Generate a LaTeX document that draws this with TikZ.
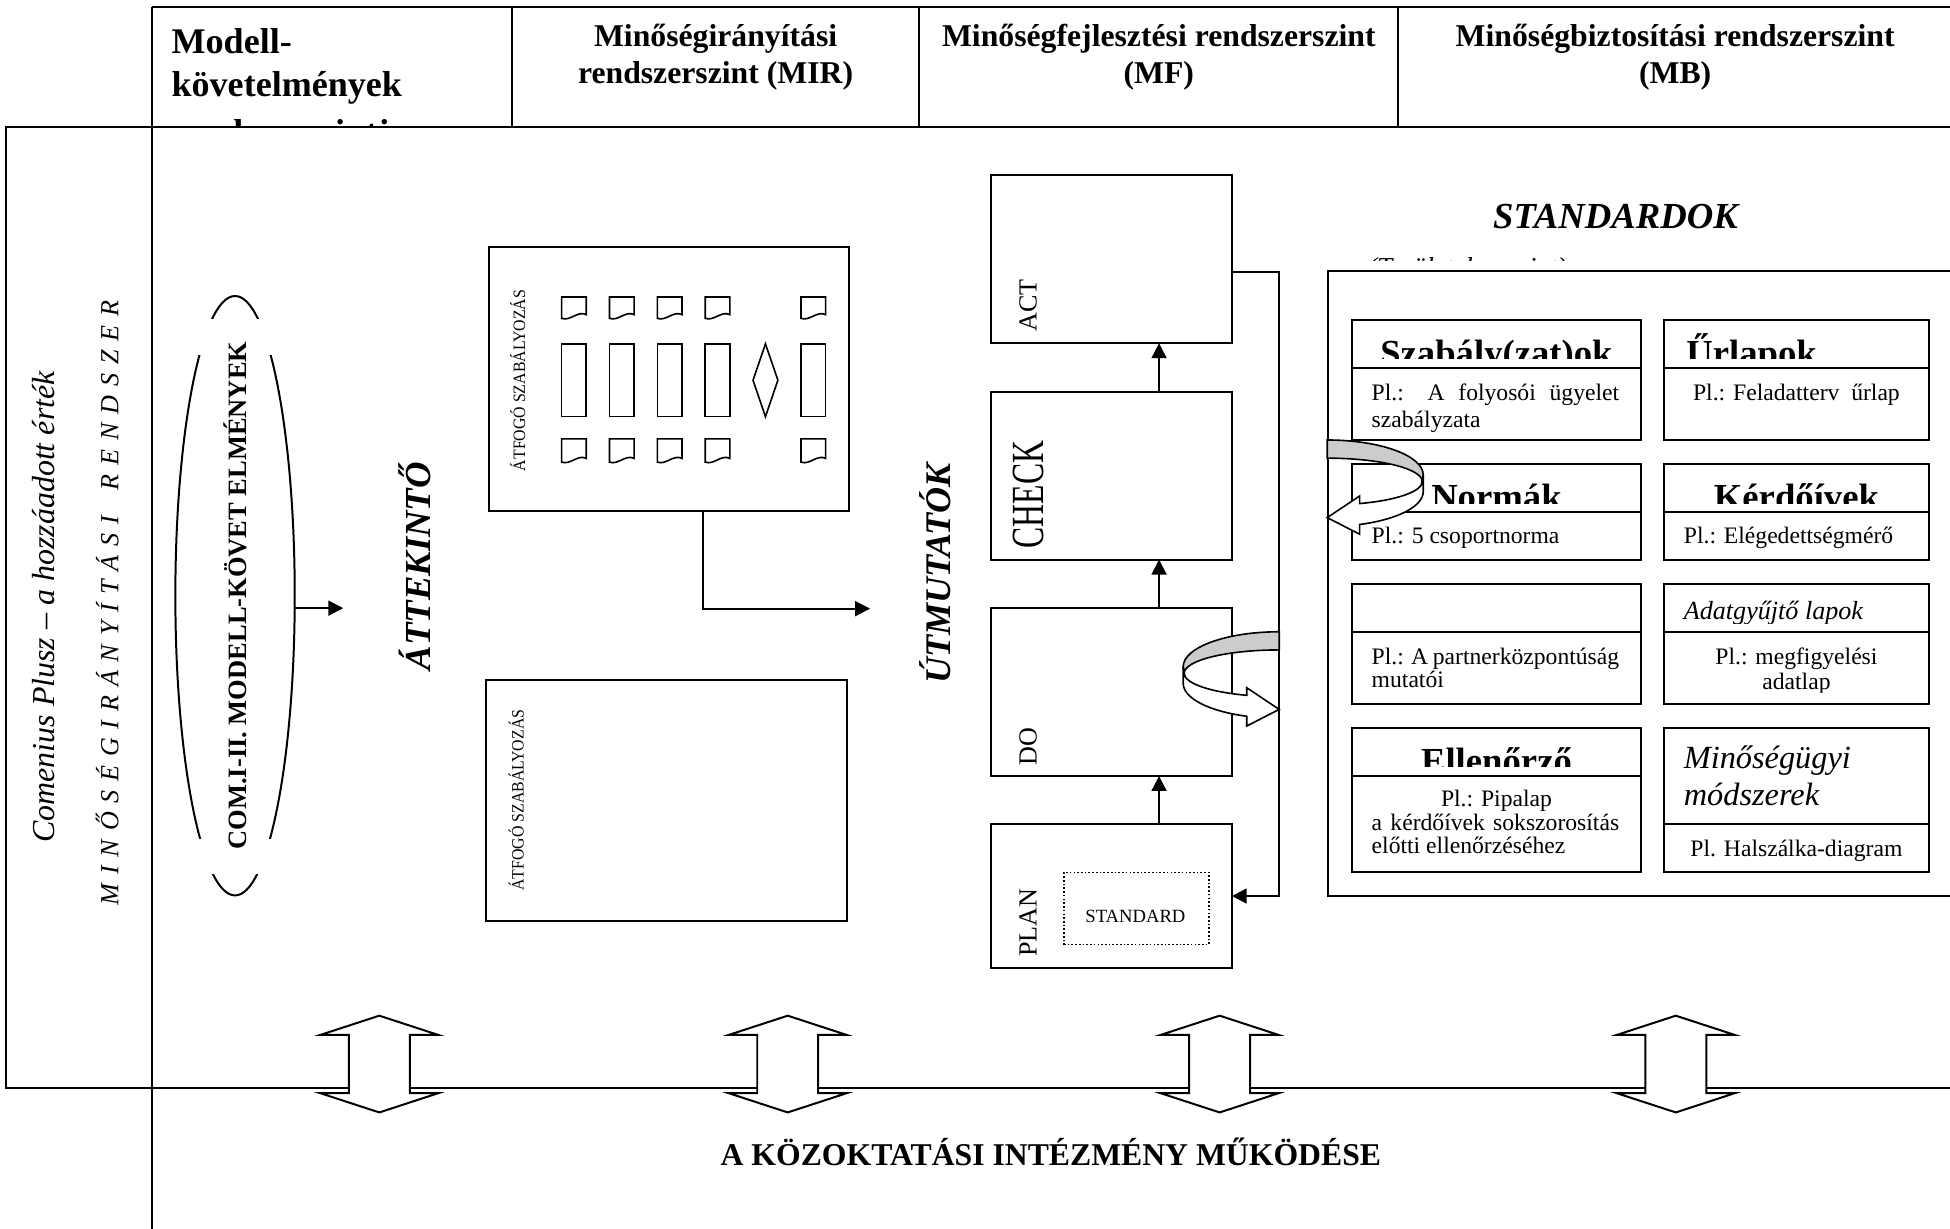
\documentclass[tikz,border=0pt]{standalone}
\usepackage{fontspec}
\usepackage{graphicx}
\setmainfont{Liberation Serif}
\usetikzlibrary{arrows.meta,calc}
\definecolor{ribgray}{gray}{0.8}
\newcommand\setfs[2]{\fontsize{#1}{#2}\selectfont}
\newcommand\mydoc[3]{\draw[line width=1.3pt] (#1,#2) -- ({#1+19.8},#2) -- ({#1+19.8},{#2+#3-3}) .. controls ({#1+13},{#2+#3-6.5}) and ({#1+7},{#2+#3+2.5}) .. (#1,{#2+#3}) -- cycle;}
\newcommand\dblarr[1]{\draw[fill=white] (#1,816.7) -- ({#1+47.5},832.2) -- ({#1+24.5},832.2) -- ({#1+24.5},879) -- ({#1+47.5},879) -- (#1,894.5) -- ({#1-47.5},879) -- ({#1-24.5},879) -- ({#1-24.5},832.2) -- ({#1-47.5},832.2) -- cycle;}
\newcommand\ribbonpath{%
  \draw[fill=ribgray,line width=1.3pt] (0,-28.1) .. controls (-42.6,-28.1) and (-77.2,-15.5) .. (-77.2,0) -- (-76.4,5.3) .. controls (-76.4,-5.1) and (-42.2,-13.5) .. (0,-13.5) -- cycle;
  \draw[fill=white,line width=1.3pt] (-77.2,0) -- (-77.2,13.4) .. controls (-77.2,25.25) and (-56.7,35.83) .. (-26.1,39.84) -- (-26.1,47.7) -- (0,34.3) -- (-26.1,16.9) -- (-26.1,23.0) .. controls (-56.4,20.3) and (-76.4,13.2) .. (-76.4,5.3) -- cycle;}
\tikzset{
  box/.style={draw, line width=1.6pt, inner sep=0pt, outer sep=0pt},
  arr/.style={line width=1.6pt, -{Triangle[length=12pt,width=12pt]}},
  lbl/.style={inner sep=0pt, outer sep=0pt},
  vlbl/.style={lbl, rotate=90, anchor=base west},
  hdr/.style={lbl, font={\setfs{25.5}{30}\bfseries}, anchor=base},
  cellh/.style={lbl, font={\setfs{29.5}{34}\bfseries}, anchor=base},
  body/.style={lbl, font={\setfs{19}{21}}},
}
\begin{document}
\begin{tikzpicture}[x=1pt,y=-1pt,line width=1.6pt]
\useasboundingbox (0,0) rectangle (1568,988);
\clip (0,0) rectangle (1568,988);

% ---------- header row ----------
\draw (122,6) -- (1580,6);
\draw (122,6) -- (122,990);
\draw (411.7,6) -- (411.7,102);
\draw (739,6) -- (739,102);
\draw (1124.5,6) -- (1124.5,102);
% main frame
\draw (1580,102) -- (5,102) -- (5,875) -- (1580,875);

\node[lbl, anchor=base west, font={\setfs{29}{34}\bfseries}] (h1a) at (138,42.9) {Modell-};
\node[lbl, anchor=base west, font={\setfs{29}{34}\bfseries}] (h1b) at (138,77.7) {követelmények};
\begin{scope}
\clip (128,6) rectangle (405,101);
\node[lbl, anchor=base west, font={\setfs{29}{34}\bfseries}] (h1c) at (138,116) {rendszerszintje};
\end{scope}
\node[hdr] (h2a) at (575.4,37.5) {Minőségirányítási};
\node[hdr] (h2b) at (575.4,67.5) {rendszerszint (MIR)};
\node[hdr] (h3a) at (931.8,37.5) {Minőségfejlesztési rendszerszint};
\node[hdr] (h3b) at (931.8,67.5) {(MF)};
\node[hdr] (h4a) at (1347,37.5) {Minőségbiztosítási rendszerszint};
\node[hdr] (h4b) at (1347,67.5) {(MB)};

% ---------- left column ----------
\node[vlbl, font={\setfs{25.7}{30}\itshape}] (comen) at (44.2,677.6) {Comenius Plusz – a hozzáadott érték};
\node[vlbl, font={\setfs{21}{25}\itshape}] (mirtxt) at (95.1,727.9) {\spaceskip=7.08pt M I N Ő S É G I R Á N Y Í T Á S I\hspace{21pt}R E N D S Z E R};

% ---------- ellipse ----------
\coordinate (ellc) at (189,479);
\foreach \ya/\yb in {230/256, 286/674, 703/730}{
  \begin{scope}
  \clip (130,\ya) rectangle (250,\yb);
  \draw (ellc) ellipse [x radius=48pt, y radius=241pt];
  \end{scope}
}
\node[vlbl, font={\setfs{21.3}{25}\bfseries}] (com) at (198.4,683) {COM.I-II. MODELL-KÖVET ELMÉNYEK};
\coordinate (ellR) at (237,489);
\coordinate (ellT) at (276,489);
\draw[arr] (ellR) -- (ellT);

\node[vlbl, font={\setfs{29.5}{34}\bfseries\itshape}] (attek) at (345.8,538.8) {ÁTTEKINTŐ};

% ---------- MIR boxes ----------
\node[box, anchor=north west, minimum width=290pt, minimum height=212pt] (mirup) at (393,199) {};
\node[box, anchor=north west, minimum width=290pt, minimum height=193.5pt] (mirlo) at (391,547) {};
\node[vlbl, font={\setfs{14}{16}}] (atf1) at (422.2,378.8) {\scalebox{0.91}[1]{ÁTFOGÓ SZABÁLYOZÁS}};
\node[vlbl, font={\setfs{14}{16}}] (atf2) at (421,716.2) {\scalebox{0.91}[1]{ÁTFOGÓ SZABÁLYOZÁS}};
\foreach \i in {0,1,2,3,5}{
  \pgfmathsetmacro\xx{451.6+38.5*\i}
  \mydoc{\xx}{238.8}{17.2}
  \draw[line width=1.3pt] (\xx,276.5) rectangle ({\xx+19.8},335);
  \mydoc{\xx}{352.9}{18.7}
}
\draw[line width=1.3pt] (615.5,276.5) -- (625.5,305.75) -- (615.5,335) -- (605.5,305.75) -- cycle;
\coordinate (mirx) at (565,0);
\coordinate (mirend) at (699.6,489.4);
\draw[arr] (mirup.south -| mirx) |- (mirend);

\node[vlbl, font={\setfs{29}{34}\bfseries\itshape}] (utm) at (763.9,549.5) {ÚTMUTATÓK};

% ---------- PDCA ----------
\node[box, anchor=north west, minimum width=193.5pt, minimum height=135pt] (act) at (797,141) {};
\node[box, anchor=north west, minimum width=193.5pt, minimum height=135pt] (check) at (797,315) {};
\node[box, anchor=north west, minimum width=193.5pt, minimum height=135pt] (do) at (797,489) {};
\node[box, anchor=north west, minimum width=193.5pt, minimum height=115.4pt] (plan) at (797,662.6) {};
\node[vlbl, font={\setfs{21}{24}}] (actl) at (833.6,266.7) {ACT};
\node[vlbl, font={\setfs{37}{40}}] (checkl) at (838.9,441) {\scalebox{0.69}[1]{CHECK}};
\node[vlbl, font={\setfs{21}{24}}] (dol) at (833.6,615.2) {DO};
\node[vlbl, font={\setfs{21}{24}}] (planl) at (833.6,769.4) {PLAN};
\node[draw, line width=1.1pt, dash pattern=on 1.3pt off 1.7pt, anchor=north west, minimum width=116.5pt, minimum height=58pt, inner sep=0pt] (stdbox) at (855,701) {};
\node[lbl, anchor=base, font={\setfs{15}{18}}] (stdl) at (913,741.8) {STANDARD};
\coordinate (arx) at (932,0);
\draw[arr] (plan.north -| arx) -- (do.south -| arx);
\draw[arr] (do.north -| arx) -- (check.south -| arx);
\draw[arr] (check.north -| arx) -- (act.south -| arx);
\coordinate (lp1) at (1028.6,219);
\coordinate (lp2) at (1028.6,720.5);
\draw[arr] (act.east |- lp1) -- (lp1) -- (lp2) -- (plan.east |- lp2);
\begin{scope}[shift={(1028.6,536.1)}]
\ribbonpath
\end{scope}

% ---------- STANDARDOK ----------
\node[lbl, anchor=base, font={\setfs{29.5}{34}\bfseries\itshape}] (stdk) at (1299,183.5) {STANDARDOK};
\begin{scope}
\clip (1090,190) rectangle (1300,209.6);
\node[lbl, anchor=base west, font={\setfs{22}{26}\itshape}] (stdsub) at (1100,222) {(Területek szerint)};
\end{scope}
\draw (1580,218) -- (1068,218) -- (1068,720.5) -- (1580,720.5);

% boxes
\node[box, anchor=north west, minimum width=232.5pt, minimum height=97pt] (b11) at (1087,257) {};
\node[box, anchor=north west, minimum width=213pt, minimum height=97pt] (b12) at (1338,257) {};
\node[box, anchor=north west, minimum width=232.5pt, minimum height=77pt] (b21) at (1087,373) {};
\node[box, anchor=north west, minimum width=213pt, minimum height=77pt] (b22) at (1338,373) {};
\node[box, anchor=north west, minimum width=232.5pt, minimum height=96.4pt] (b31) at (1087,469.6) {};
\node[box, anchor=north west, minimum width=213pt, minimum height=96.4pt] (b32) at (1338,469.6) {};
\node[box, anchor=north west, minimum width=232.5pt, minimum height=116pt] (b41) at (1087,585) {};
\node[box, anchor=north west, minimum width=213pt, minimum height=116pt] (b42) at (1338,585) {};
\coordinate (d1) at (0,296);
\coordinate (d2) at (0,412);
\coordinate (d3) at (0,508);
\coordinate (d4) at (0,624);
\coordinate (d5) at (0,662.6);
\draw (b11.west |- d1) -- (b11.east |- d1);
\draw (b12.west |- d1) -- (b12.east |- d1);
\draw (b21.west |- d2) -- (b21.east |- d2);
\draw (b22.west |- d2) -- (b22.east |- d2);
\draw (b31.west |- d3) -- (b31.east |- d3);
\draw (b32.west |- d3) -- (b32.east |- d3);
\draw (b41.west |- d4) -- (b41.east |- d4);
\draw (b42.west |- d5) -- (b42.east |- d5);

% row 1
\begin{scope}\clip (1090,258) rectangle (1318,288.5);
\node[cellh] (t11) at (1203.3,293.8) {Szabály(zat)ok};
\end{scope}
\begin{scope}\clip (1340,258) rectangle (1549,288.5);
\node[cellh, anchor=base west] (t12) at (1356,293.8) {Űrlapok};
\end{scope}
\node[body, anchor=base west] (p11a) at (1103,322.2) {\makebox[199pt][s]{Pl.: A folyosói ügyelet}};
\node[body, anchor=base west] (p11b) at (1103,343.6) {szabályzata};
\node[body, anchor=base] (p12) at (1444.5,322.2) {Pl.: Feladatterv\ \ űrlap};
% row 2
\begin{scope}\clip (1090,374) rectangle (1318,404.5);
\node[cellh] (t21) at (1203.3,409.8) {Normák};
\end{scope}
\begin{scope}\clip (1340,374) rectangle (1549,404.5);
\node[cellh] (t22) at (1444.5,409.8) {Kérdőívek};
\end{scope}
\node[body, anchor=base west] (p21) at (1103,437.4) {Pl.: 5 csoportnorma};
\node[body, anchor=base west] (p22) at (1354,437.4) {Pl.: Elégedettségmérő};
% row 3
\begin{scope}\clip (1340,471) rectangle (1549,501);
\node[lbl, anchor=base west, font={\setfs{21}{24}\itshape}] (t32) at (1354,498.5) {Adatgyűjtő lapok};
\end{scope}
\node[body, anchor=base west] (p31a) at (1103,534) {\makebox[199pt][s]{Pl.: A partnerközpontúság}};
\node[body, anchor=base west] (p31b) at (1103,552.7) {mutatói};
\begin{scope}\clip (1340,510) rectangle (1549,557);
\node[body, anchor=base] (p32a) at (1444.5,534) {Pl.: megfigyelési};
\node[body, anchor=base] (p32b) at (1444.5,554.8) {adatlap};
\end{scope}
% row 4
\begin{scope}\clip (1090,586) rectangle (1318,616.5);
\node[cellh] (t41) at (1203.3,621.8) {Ellenőrző};
\end{scope}
\node[body, anchor=base] (p41a) at (1203.3,648.7) {Pl.: Pipalap};
\node[body, anchor=base west] (p41b) at (1103,667.4) {\makebox[199pt][s]{a kérdőívek sokszorosítás}};
\node[body, anchor=base west] (p41c) at (1103,686.2) {előtti ellenőrzéséhez};
\node[lbl, anchor=base west, font={\setfs{26}{30}\itshape}] (t42a) at (1354,617.6) {Minőségügyi};
\node[lbl, anchor=base west, font={\setfs{26}{30}\itshape}] (t42b) at (1354,647.3) {módszerek};
\node[body, anchor=base] (p42) at (1444.5,689) {Pl. Halszálka-diagram};

% ribbon near Normák
\begin{scope}[shift={(1067.2,381.9)}, xscale=-1]
\ribbonpath
\end{scope}

% ---------- bottom ----------
\foreach \c in {305,633.4,980.7,1347.5}{\dblarr{\c}}
\node[lbl, anchor=base, font={\setfs{25.5}{30}\bfseries}] (kozokt) at (845,936.8) {A KÖZOKTATÁSI INTÉZMÉNY MŰKÖDÉSE};
\end{tikzpicture}
\end{document}
